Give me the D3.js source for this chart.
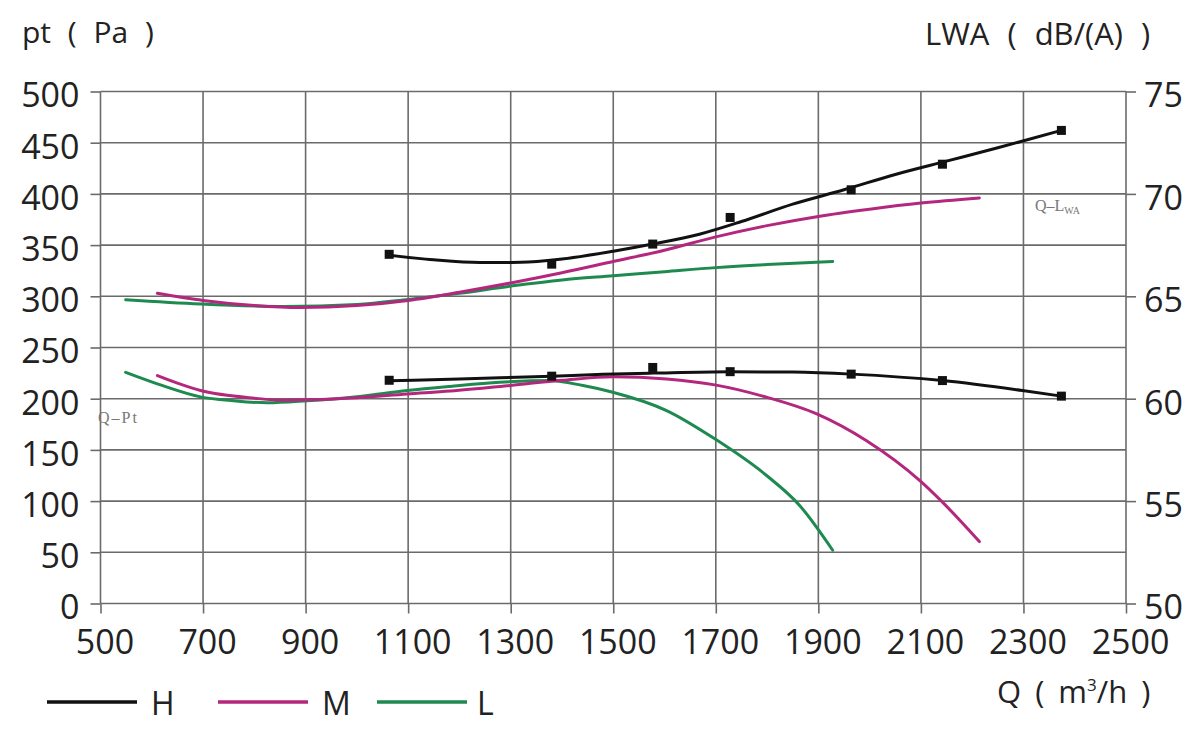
<!DOCTYPE html>
<html lang="en">
<head>
    <meta charset="UTF-8">
    <title>Fan performance curves</title>
    <style>
        body { margin: 0; background: #fff; }
        svg { display: block; font-family: "Open Sans", "DejaVu Sans", sans-serif; }
        .grid line { stroke: #6b6b6b; stroke-width: 1.6px; }
        .axis path { display: none; }
        .axis line { stroke: #6b6b6b; stroke-width: 1.6px; }
        .axis text { font-family: "Open Sans", "DejaVu Sans", sans-serif; font-size: 34px; fill: #222; }
        .curve { fill: none; stroke-width: 3px; stroke-linecap: round; }
        .note { font-family: "Liberation Serif", "DejaVu Serif", serif; font-size: 16px; fill: #777; }
        .title { font-family: "Open Sans", "DejaVu Sans", sans-serif; fill: #222; white-space: pre; }
    </style>
</head>
<body>
<div id="chart"></div>
<script src="https://d3js.org/d3.v7.min.js"></script>
<script>
    // tick values
    var qTicks = [500, 700, 900, 1100, 1300, 1500, 1700, 1900, 2100, 2300, 2500];
    var ptTicks = [0, 50, 100, 150, 200, 250, 300, 350, 400, 450, 500];
    var lwaTicks = [50, 55, 60, 65, 70, 75];

    // H speed: pressure curve (Pa) and noise curve (dB(A))
    var hPtQ = [1063, 1200, 1279, 1380, 1480, 1577, 1727, 1850, 1964, 2142, 2298, 2374];
    var hPt = [217.5, 219.3, 220.4, 222, 223.8, 225, 226.4, 226, 224, 217.7, 208, 202.5];
    var hLwaQ = [1063, 1150, 1240, 1320, 1400, 1500, 1577, 1668, 1750, 1850, 1950, 2050, 2150, 2250, 2374];
    var hLwa = [67.0, 66.78, 66.65, 66.66, 66.82, 67.2, 67.55, 68.03, 68.65, 69.5, 70.2, 70.95, 71.6, 72.25, 73.1];

    // H measured points
    var hMarkQ = [1063, 1380, 1577, 1728, 1964, 2142, 2374];
    var hMarkPt = [218, 222, 230.5, 226.4, 224, 217.7, 202.5];
    var hMarkLwa = [67.05, 66.57, 67.55, 68.85, 70.2, 71.45, 73.1];

    // M speed
    var mPtQ = [611, 695, 800, 856, 903, 1000, 1098, 1182, 1300, 1400, 1500, 1604, 1698, 1799, 1898, 1994, 2098, 2142, 2214];
    var mPt = [222.5, 208, 200.5, 198.5, 199, 201, 204.7, 207.5, 213, 218, 221.5, 219.3, 213.5, 201.5, 185, 159, 120, 99, 60.5];
    var mLwaQ = [611, 700, 800, 890, 1000, 1100, 1200, 1300, 1400, 1500, 1600, 1700, 1800, 1900, 2000, 2100, 2214];
    var mLwa = [65.15, 64.8, 64.55, 64.45, 64.55, 64.8, 65.2, 65.65, 66.15, 66.7, 67.25, 67.9, 68.45, 68.9, 69.25, 69.55, 69.8];

    // L speed
    var lPtQ = [549, 620, 695, 760, 825, 903, 1000, 1098, 1182, 1279, 1376, 1441, 1499, 1604, 1698, 1799, 1863, 1928];
    var lPt = [225.8, 213, 201.8, 198, 196, 198, 202, 208, 212, 216, 217.7, 212.8, 206.3, 188.4, 160.8, 125, 96, 52];
    var lLwaQ = [549, 695, 857, 1000, 1100, 1200, 1300, 1400, 1500, 1600, 1700, 1800, 1928];
    var lLwa = [64.83, 64.62, 64.5, 64.6, 64.85, 65.15, 65.5, 65.8, 66.0, 66.2, 66.4, 66.55, 66.7];

    var series = [
        { name: "H", color: "#111111", ptQ: hPtQ, pt: hPt, lwaQ: hLwaQ, lwa: hLwa },
        { name: "M", color: "#b3287e", ptQ: mPtQ, pt: mPt, lwaQ: mLwaQ, lwa: mLwa },
        { name: "L", color: "#1f8a50", ptQ: lPtQ, pt: lPt, lwaQ: lLwaQ, lwa: lLwa }
    ];

    var width = 1200, height = 733;
    var margin = { top: 91.5, right: 74, bottom: 129.5, left: 100.5 };

    var svg = d3.select("#chart").append("svg")
        .attr("width", width)
        .attr("height", height);

    svg.append("rect").attr("width", width).attr("height", height).attr("fill", "#fff");

    var x = d3.scaleLinear().domain([500, 2500]).range([margin.left, width - margin.right]);
    var yPt = d3.scaleLinear().domain([0, 500]).range([height - margin.bottom, margin.top]);
    var yLwa = d3.scaleLinear().domain([50, 75]).range([height - margin.bottom, margin.top]);

    // grid
    var grid = svg.append("g").attr("class", "grid");
    grid.selectAll(".v").data(qTicks).enter().append("line")
        .attr("x1", function (d) { return x(d); })
        .attr("x2", function (d) { return x(d); })
        .attr("y1", yPt(500))
        .attr("y2", yPt(0));
    grid.selectAll(".h").data(ptTicks).enter().append("line")
        .attr("x1", x(500))
        .attr("x2", x(2500))
        .attr("y1", function (d) { return yPt(d); })
        .attr("y2", function (d) { return yPt(d); });

    // axes
    svg.append("g")
        .attr("class", "axis")
        .attr("transform", "translate(" + x(500) + ",0)")
        .call(d3.axisLeft(yPt).tickValues(ptTicks).tickSize(10).tickPadding(11))
        .selectAll("text").attr("dy", "0.45em");

    svg.append("g")
        .attr("class", "axis")
        .attr("transform", "translate(" + x(2500) + ",0)")
        .call(d3.axisRight(yLwa).tickValues(lwaTicks).tickSize(10).tickPadding(8))
        .selectAll("text").attr("dy", "0.45em");

    svg.append("g")
        .attr("class", "axis")
        .attr("transform", "translate(0," + yPt(0) + ")")
        .call(d3.axisBottom(x).tickValues(qTicks).tickFormat(d3.format("d")).tickSize(10).tickPadding(16))
        .selectAll("text").attr("dx", "4");

    // curves
    function curveLine(yScale) {
        return d3.line()
            .x(function (d) { return x(d[0]); })
            .y(function (d) { return yScale(d[1]); })
            .curve(d3.curveMonotoneX);
    }
    var ptLine = curveLine(yPt), lwaLine = curveLine(yLwa);

    // draw L first so H ends on top
    series.slice().reverse().forEach(function (s) {
        svg.append("path")
            .datum(d3.zip(s.lwaQ, s.lwa))
            .attr("class", "curve")
            .attr("stroke", s.color)
            .attr("d", lwaLine);
        svg.append("path")
            .datum(d3.zip(s.ptQ, s.pt))
            .attr("class", "curve")
            .attr("stroke", s.color)
            .attr("d", ptLine);
    });

    // H markers
    var ms = 9;
    svg.selectAll(".mk-pt").data(d3.zip(hMarkQ, hMarkPt)).enter().append("rect")
        .attr("x", function (d) { return x(d[0]) - ms / 2; })
        .attr("y", function (d) { return yPt(d[1]) - ms / 2; })
        .attr("width", ms).attr("height", ms).attr("fill", "#111");
    svg.selectAll(".mk-lwa").data(d3.zip(hMarkQ, hMarkLwa)).enter().append("rect")
        .attr("x", function (d) { return x(d[0]) - ms / 2; })
        .attr("y", function (d) { return yLwa(d[1]) - ms / 2; })
        .attr("width", ms).attr("height", ms).attr("fill", "#111");

    // curve notes
    var qlwa = svg.append("text").attr("class", "note").attr("x", 1035).attr("y", 211);
    qlwa.append("tspan").text("Q\u2013L");
    qlwa.append("tspan").attr("font-size", 10).attr("dy", 3).text("WA");
    svg.append("text").attr("class", "note").attr("x", 98).attr("y", 423)
        .attr("letter-spacing", 2).text("Q\u2013Pt");

    // titles
    svg.append("text").attr("class", "title").attr("x", 22).attr("y", 43)
        .attr("font-size", 30).attr("word-spacing", 9)
        .text("pt ( Pa )");
    svg.append("text").attr("class", "title").attr("x", 925).attr("y", 45)
        .attr("font-size", 31).attr("word-spacing", 10)
        .text("LWA ( dB/(A) )");
    var qt = svg.append("text").attr("class", "title").attr("x", 997).attr("y", 703)
        .attr("font-size", 31).attr("word-spacing", 6);
    qt.append("tspan").text("Q ( m");
    qt.append("tspan").attr("font-size", 17).attr("dy", -12).text("3");
    qt.append("tspan").attr("dy", 12).text("/h )");

    // legend
    var legendX = [47, 218, 377];
    series.forEach(function (s, i) {
        var g = svg.append("g").attr("transform", "translate(" + legendX[i] + ",702)");
        g.append("line").attr("x1", 0).attr("x2", 90)
            .attr("stroke", s.color).attr("stroke-width", 3.5);
        g.append("text").attr("class", "title").attr("x", i === 2 ? 100 : 104).attr("y", 13)
            .attr("font-size", 32).text(s.name);
    });
</script>
</body>
</html>
